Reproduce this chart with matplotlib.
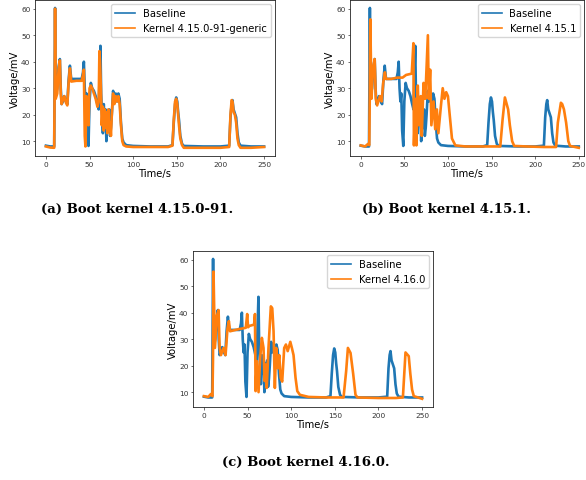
"""
Boot-time voltage traces: baseline vs three kernels.
"""
import matplotlib
matplotlib.use("Agg")
import matplotlib.pyplot as plt

# Baseline trace (same in all three panels)
base_t = [0, 5, 9.5, 10.0, 10.5, 11.2, 13, 14.5, 16, 17, 18, 19.5, 21, 23, 24.5,
          26, 27.5, 29, 35, 41, 42.5, 43.5, 44.5, 45.5, 46.5, 47.5, 48.8, 50,
          51.5, 53, 55, 57, 59, 60.5, 61.5, 62.5, 63.3, 64.3, 65.3, 66.3, 67.3,
          68.3, 69.3, 70.5, 71.5, 72.5, 73.5, 74.5, 75.5, 77, 78.5, 80, 81.5,
          83, 84.5, 86, 87.5, 89, 92, 100, 120, 140, 145, 146.5, 148, 149.3,
          150.5, 151.5, 152.5, 154, 156, 158, 180, 200, 210, 211.5, 212.8,
          213.8, 215, 216.5, 218, 219.5, 221, 223, 235, 250]
base_v = [8.3, 8.0, 8.0, 35, 60.3, 27, 30, 38, 41, 30, 24, 25, 27, 25, 24,
          33, 38.5, 33.5, 33.5, 33.5, 36, 40, 30, 25, 28, 14, 8.2, 25,
          32, 30, 29, 27, 24, 22, 35, 46, 28, 20, 13, 24, 17,
          22, 10, 21, 15, 22, 12, 15, 20, 29, 25, 28, 25,
          28, 26, 17, 11, 9.5, 8.5, 8.2, 8.0, 8.0, 8.5, 17, 24, 26.5,
          25, 21, 18, 12, 9, 8.2, 8.0, 8.0, 8.3, 19, 24,
          25.5, 22, 20.5, 19, 13, 9.5, 8.3, 8.0, 8.0]

# Kernel 4.15.0-91-generic
k91_t = [0, 5, 9.5, 10.0, 10.5, 11.2, 13, 14.5, 16, 17, 18, 19.5, 21, 23, 24.5,
         26, 27.5, 29, 35, 41, 42.5, 43.5, 44.5, 45.3, 46.5, 47.5, 48.8, 50,
         51.5, 53, 55, 57, 59, 60.5, 61.3, 62, 63, 64, 65.3, 66.3, 67.3, 68.3,
         69.3, 70.5, 71.5, 72.5, 73.5, 74.5, 75.5, 77, 78.5, 80, 81.5, 83,
         84.5, 86, 87.5, 89, 92, 100, 120, 140, 145, 146.5, 148, 149.3, 150.5,
         151.5, 152.5, 154, 156, 158, 180, 200, 210, 211.5, 212.8, 213.8, 215,
         216.5, 218, 219.5, 221, 223, 235, 250]
k91_v = [8.0, 7.6, 7.5, 30, 60, 26, 28, 37, 40.5, 28, 24, 25.5, 27, 24.5, 23.5,
         32, 37.5, 32.5, 32.8, 32.8, 35, 37, 12, 8, 27, 26, 16, 30,
         31, 30, 28, 26, 23, 25, 44, 40, 30, 16, 23, 14, 22, 15,
         21, 13, 22, 14, 17, 12, 20, 28, 24, 27, 25, 27,
         24, 16, 10, 8.5, 8, 7.8, 7.8, 7.8, 8.3, 18, 25, 26, 24,
         20, 16, 11, 8.5, 7.5, 7.5, 7.5, 7.8, 20, 25.5, 25, 21,
         20, 17, 11, 8.5, 7.5, 7.5, 7.8]

# Kernel 4.15.1
k151_t = [0, 5, 8.5, 9.8, 10.3, 11.0, 12.3, 14, 16, 17.3, 18.8, 22, 24, 25.8,
          27.7, 29, 35, 42, 48, 52, 58.5, 60.4, 61.0, 62.7, 63.8, 65.4, 67,
          68.8, 70, 72, 74, 77, 78, 79.6, 81, 83.5, 85.4, 87.3, 89, 92, 94,
          96, 98, 100, 102, 104.6, 108.5, 120, 140, 160, 162.6, 165.3, 169,
          171, 173.6, 176, 190, 210, 224, 226, 229.5, 231, 233, 235.5, 238,
          240, 250]
k151_v = [8.4, 8.0, 9.0, 8.5, 25, 56, 26, 37, 41, 26, 23.5, 27, 25, 32,
          36, 33.5, 33.5, 34, 34, 35, 35.5, 47, 8.4, 26, 8.4, 31, 16,
          27, 12, 32, 26, 50, 26, 37, 16, 25, 14.5, 22, 13, 23.5, 30,
          26, 28.5, 27, 20, 11, 8.4, 8.0, 8.0, 8.0, 18, 26.5, 22,
          16, 10, 8.2, 8.0, 7.8, 7.8, 17, 24.5, 24, 22, 17, 10,
          8.2, 7.5]

# Kernel 4.16.0
k160_t = [0, 5, 8.0, 9.8, 10.4, 11.0, 12.6, 15, 16.8, 18, 19.5, 22.5, 24.8,
          27, 28.6, 30, 40, 48, 49.6, 50.6, 52, 57.5, 58.5, 59.2, 60.7, 62.6,
          64.5, 66.4, 68.3, 69.5, 71, 72, 74, 76.7, 78.3, 79.8, 81.3, 82.8,
          84.7, 86.3, 88, 89.7, 92, 94, 96, 99, 100.8, 102.7, 105, 107, 110,
          120, 140, 160, 163, 165, 168, 171, 173.7, 176, 200, 220, 228, 231,
          234.7, 236.5, 238.5, 240.5, 250]
k160_v = [8.5, 8.2, 9.3, 8.5, 22, 55.5, 26.7, 39, 41, 26.7, 24, 26.7, 24,
          34, 36.8, 33, 33.8, 34.3, 39.5, 34.5, 35, 35.5, 39.5, 10.4, 21.7, 10,
          23, 30.5, 26.7, 14.2, 20.4, 11.6, 26.7, 42.4, 41.7, 33, 11.6, 26.7,
          19, 24, 15.4, 14, 26.7, 28, 25.5, 29, 26.7, 24, 15.4, 10.4, 9,
          8.2, 8.0, 8.0, 18, 26.7, 24.8, 17, 9, 8.0, 7.8, 7.8, 8.0, 25,
          23.6, 17, 11, 8.5, 7.5]

panels = [
    ("Kernel 4.15.0-91-generic", k91_t, k91_v, "(a) Boot kernel 4.15.0-91."),
    ("Kernel 4.15.1", k151_t, k151_v, "(b) Boot kernel 4.15.1."),
    ("Kernel 4.16.0", k160_t, k160_v, "(c) Boot kernel 4.16.0."),
]

W, H = 586, 481
# axes boxes in pixels: left, top, right, bottom
boxes = [(35, 1, 275, 157), (350, 1, 584, 157), (193, 252, 433, 408)]
xlims = [(-12.5, 262.5), (-12.3, 256.0), (-12.5, 262.5)]
captions_xy = [(137, 209), (446, 209), (306, 462)]

fig = plt.figure(figsize=(W / 100, H / 100), dpi=100)

for (label, kt, kv, cap), (l, t, r, b), xl, (cx, cy) in zip(panels, boxes, xlims, captions_xy):
    ax = fig.add_axes([l / W, 1 - b / H, (r - l) / W, (b - t) / H])
    ax.plot(base_t, base_v, color="#1f77b4", lw=1.9, label="Baseline")
    ax.plot(kt, kv, color="#ff7f0e", lw=1.9, label=label)
    ax.set_xlim(*xl)
    ax.set_ylim(4.4, 63.3)
    ax.set_xticks([0, 50, 100, 150, 200, 250])
    ax.set_yticks([10, 20, 30, 40, 50, 60])
    ax.tick_params(labelsize=5.3, length=1.8, width=0.5, pad=1.5, colors="#333333")
    for sp in ax.spines.values():
        sp.set_linewidth(0.6)
        sp.set_color("#222222")
    ax.set_xlabel("Time/s", fontsize=7.2, labelpad=1)
    ax.set_ylabel("Voltage/mV", fontsize=7.2, labelpad=1)
    leg = ax.legend(loc="upper right", fontsize=7.2, handlelength=2.0,
                    borderaxespad=0.4, framealpha=0.8)
    for ln in leg.get_lines():
        ln.set_linewidth(1.2)
    fig.text(cx / W, 1 - cy / H, cap, ha="center", va="center",
             fontsize=9.5, fontweight="bold", family="DejaVu Serif")

fig.savefig("out.png", dpi=100)
